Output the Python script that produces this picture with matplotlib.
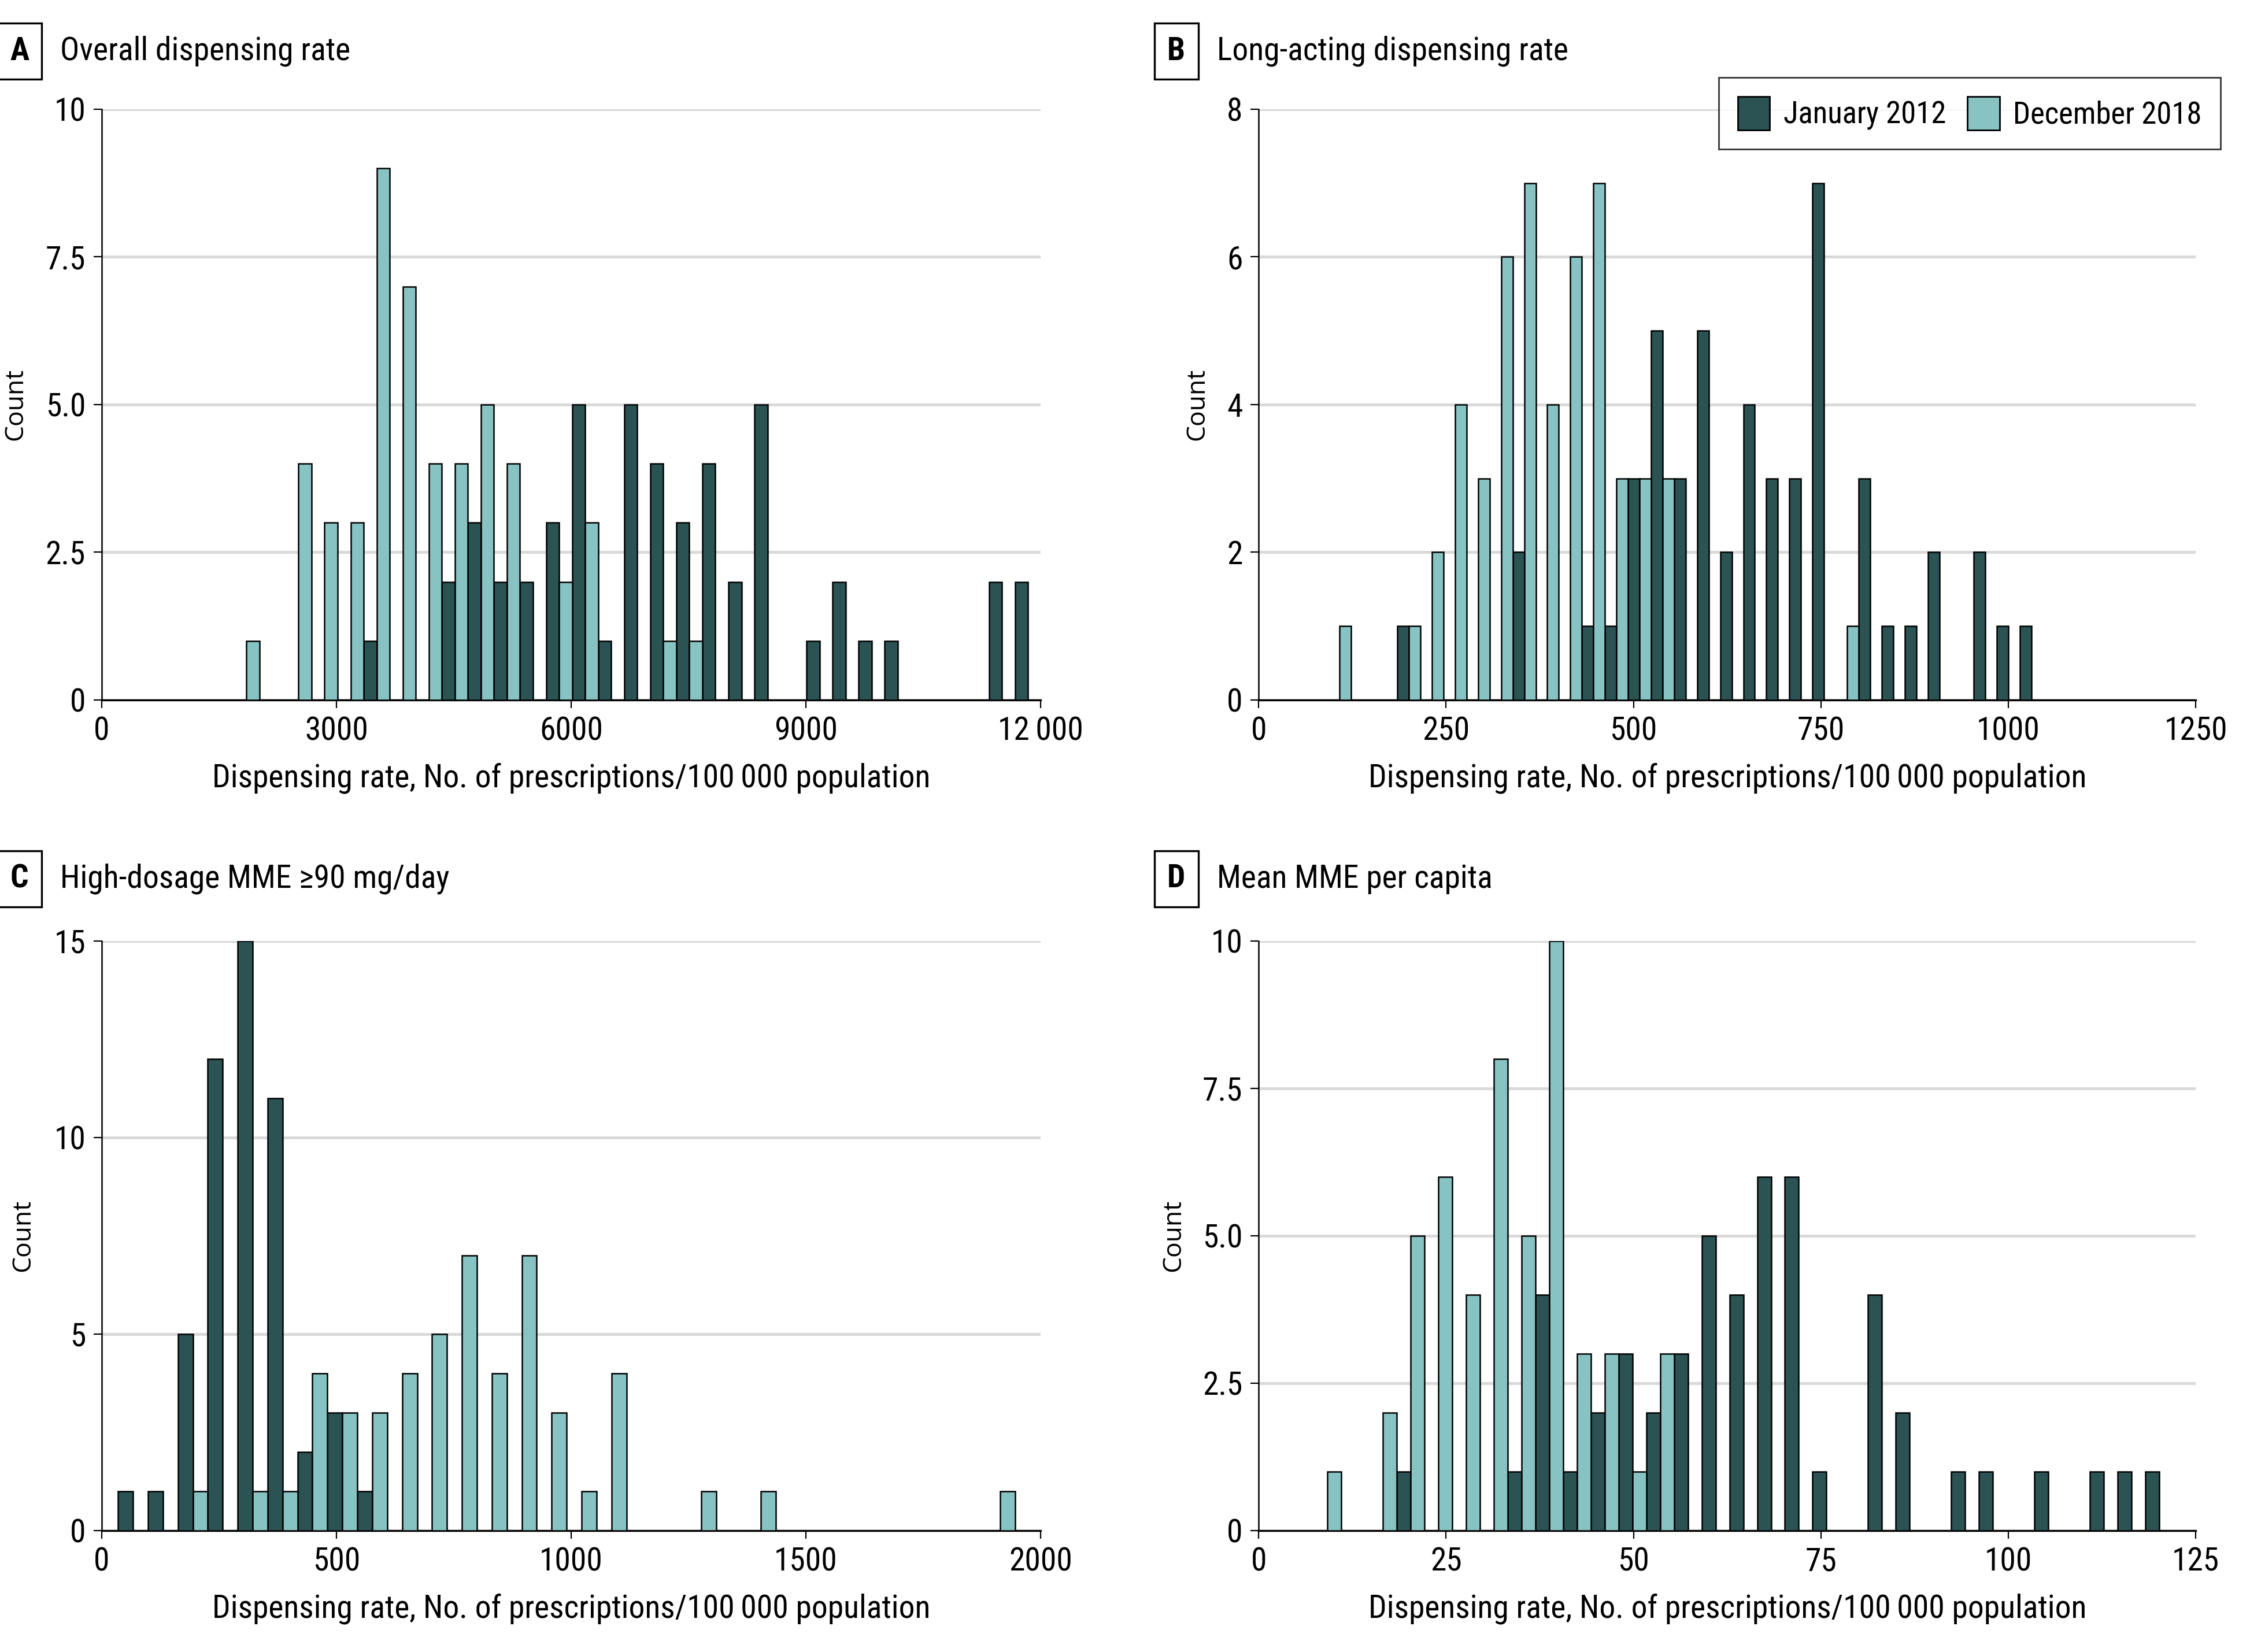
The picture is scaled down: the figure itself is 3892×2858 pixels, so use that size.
import numpy as np
import matplotlib
matplotlib.use('Agg')
import matplotlib.pyplot as plt
from matplotlib.patches import Patch

cond = ['Roboto Condensed', 'Fira Sans Condensed', 'DejaVu Sans']
plt.rcParams['font.family'] = cond

dark = '#2b5353'
light = '#86c3c2'

# histogram bins (start, width) and counts per bin
a_start, a_width = 1683, 333
a_2012 = [0, 0, 0, 0, 0, 1, 0, 0, 2, 3, 2, 2, 3, 5, 1, 5, 4, 3, 4, 2, 5, 0, 1, 2, 1, 1, 0, 0, 0, 2, 2]
a_2018 = [1, 0, 4, 3, 3, 9, 7, 4, 4, 5, 4, 0, 2, 3, 0, 0, 1, 1, 0, 0, 0, 0, 0, 0, 0, 0, 0, 0, 0, 0, 0]

b_start, b_width = 92.8, 30.76
b_2012 = [0, 0, 0, 1, 0, 0, 0, 0, 2, 0, 0, 1, 1, 3, 5, 3, 5, 2, 4, 3, 3, 7, 0, 3, 1, 1, 2, 0, 2, 1, 1]
b_2018 = [1, 0, 0, 1, 2, 4, 3, 6, 7, 4, 6, 7, 3, 3, 3, 0, 0, 0, 0, 0, 0, 0, 1, 0, 0, 0, 0, 0, 0, 0, 0]

c_start, c_width = 34.9, 63.7
c_2012 = [1, 1, 5, 12, 15, 11, 2, 3, 1, 0, 0, 0, 0, 0, 0, 0, 0, 0, 0, 0, 0, 0, 0, 0, 0, 0, 0, 0, 0, 0]
c_2018 = [0, 0, 1, 0, 1, 1, 4, 3, 3, 4, 5, 7, 4, 7, 3, 1, 4, 0, 0, 1, 0, 1, 0, 0, 0, 0, 0, 0, 0, 1]

d_start, d_width = 7.33, 3.698
d_2012 = [0, 0, 0, 1, 0, 0, 0, 1, 4, 1, 2, 3, 2, 3, 5, 4, 6, 6, 1, 0, 4, 2, 0, 1, 1, 0, 1, 0, 1, 1, 1]
d_2018 = [1, 0, 2, 5, 6, 4, 8, 5, 10, 3, 3, 1, 3, 0, 0, 0, 0, 0, 0, 0, 0, 0, 0, 0, 0, 0, 0, 0, 0, 0, 0]

panels = [
    ('A', 'Overall dispensing rate', a_start, a_width, a_2012, a_2018,
     [0, 3000, 6000, 9000, 12000], ['0', '3000', '6000', '9000', '12\u2009000'],
     [0, 2.5, 5, 7.5, 10], ['0', '2.5', '5.0', '7.5', '10']),
    ('B', 'Long-acting dispensing rate', b_start, b_width, b_2012, b_2018,
     [0, 250, 500, 750, 1000, 1250], ['0', '250', '500', '750', '1000', '1250'],
     [0, 2, 4, 6, 8], ['0', '2', '4', '6', '8']),
    ('C', 'High-dosage MME \u226590 mg/day', c_start, c_width, c_2012, c_2018,
     [0, 500, 1000, 1500, 2000], ['0', '500', '1000', '1500', '2000'],
     [0, 5, 10, 15], ['0', '5', '10', '15']),
    ('D', 'Mean MME per capita', d_start, d_width, d_2012, d_2018,
     [0, 25, 50, 75, 100, 125], ['0', '25', '50', '75', '100', '125'],
     [0, 2.5, 5, 7.5, 10], ['0', '2.5', '5.0', '7.5', '10']),
]

rects = [[0.0452, 0.5763, 0.4173, 0.3576],
         [0.5594, 0.5763, 0.4165, 0.3576],
         [0.0452, 0.0735, 0.4173, 0.3569],
         [0.5594, 0.0735, 0.4165, 0.3569]]
count_x = [-0.078, -0.052, -0.070, -0.077]
title_y = [0.969, 0.969, 0.468, 0.468]

fig = plt.figure(figsize=(19.46, 14.29), dpi=200)
fs = 20

for i, (letter, title, start, width, c12, c18, xt, xtl, yt, ytl) in enumerate(panels):
    ax = fig.add_axes(rects[i])
    n = len(c12)
    centers = start + width * (np.arange(n) + 0.5)
    ax.bar(centers - width / 4, c12, width=width / 2, color=dark,
           edgecolor='black', linewidth=0.9, zorder=3)
    ax.bar(centers + width / 4, c18, width=width / 2, color=light,
           edgecolor='black', linewidth=0.9, zorder=3)
    ax.set_xlim(xt[0], xt[-1])
    ax.set_ylim(yt[0], yt[-1])
    ax.set_xticks(xt)
    ax.set_xticklabels(xtl)
    ax.set_yticks(yt)
    ax.set_yticklabels(ytl)
    ax.tick_params(labelsize=fs, length=5, width=0.8, pad=5)
    ax.grid(axis='y', color='#d9d9d9', linewidth=1.8, zorder=0)
    ax.set_axisbelow(True)
    ax.spines['top'].set_visible(False)
    ax.spines['right'].set_visible(False)
    ax.spines['left'].set_linewidth(0.9)
    ax.spines['bottom'].set_linewidth(1.2)
    ax.set_xlabel('Dispensing rate, No. of prescriptions/100\u2009000 population',
                  fontsize=fs, labelpad=10)
    ax.set_ylabel('Count', fontsize=16, family=['Open Sans', 'DejaVu Sans'])
    ax.yaxis.set_label_coords(count_x[i], 0.5)

    x0 = rects[i][0]
    fig.text(x0 - 0.0366, title_y[i], letter, fontsize=fs, fontweight='bold',
             ha='center', va='center',
             bbox=dict(boxstyle='square,pad=0.4', fc='white', ec='black', lw=1.2))
    fig.text(x0 - 0.0185, title_y[i], title, fontsize=fs, ha='left', va='center')

handles = [Patch(facecolor=dark, edgecolor='black', label='January 2012'),
           Patch(facecolor=light, edgecolor='black', label='December 2018')]
fig.legend(handles=handles, loc='upper right', bbox_to_anchor=(0.987, 0.953),
           borderaxespad=0, ncol=2, fontsize=19, frameon=True, fancybox=False,
           edgecolor='black', handlelength=1.05, handleheight=1.3,
           columnspacing=0.7, handletextpad=0.45, borderpad=0.62)

fig.savefig('out.png', dpi=200)
